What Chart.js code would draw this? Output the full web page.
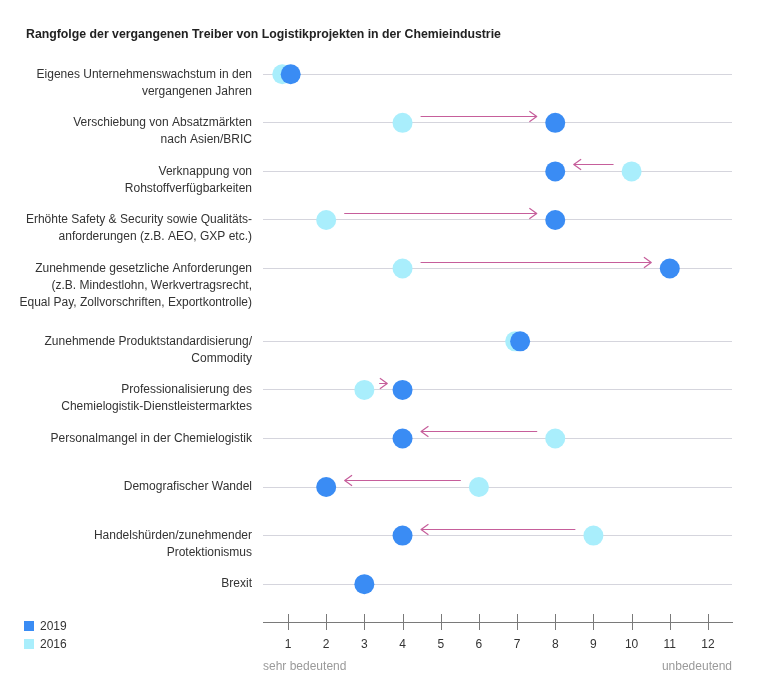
<!DOCTYPE html>
<html><head><meta charset="utf-8">
<script src="https://cdn.jsdelivr.net/npm/chart.js@4/dist/chart.umd.min.js"></script>
<style>
html,body{margin:0;padding:0;background:#fff;}
#wrap{position:relative;width:760px;height:695px;font-family:"Liberation Sans",Arial,Helvetica,sans-serif;}
#c{position:absolute;left:0;top:0;}
#title{position:absolute;left:26px;top:27px;font-size:12.3px;font-weight:bold;color:#222;white-space:nowrap;}
.cap{position:absolute;top:659px;font-size:12px;color:#9a9a9a;white-space:nowrap;}
.leg{position:absolute;left:24px;font-size:12px;color:#333;white-space:nowrap;line-height:14px;}
.leg i{display:inline-block;width:10px;height:10px;margin-right:6px;vertical-align:-1px;}
</style></head>
<body><div id="wrap">
<canvas id="c" width="760" height="695"></canvas>
<div id="title">Rangfolge der vergangenen Treiber von Logistikprojekten in der Chemieindustrie</div>
<div class="cap" style="left:263px">sehr bedeutend</div>
<div class="cap" style="right:28px">unbedeutend</div>
<div class="leg" style="top:619px"><i style="background:#3a8cf4"></i>2019</div>
<div class="leg" style="top:637px"><i style="background:#a9eefc"></i>2016</div>
</div>
<script>
const categories = [
  ["Eigenes Unternehmenswachstum in den", "vergangenen Jahren"],
  ["Verschiebung von Absatzmärkten", "nach Asien/BRIC"],
  ["Verknappung von", "Rohstoffverfügbarkeiten"],
  ["Erhöhte Safety & Security sowie Qualitäts-", "anforderungen (z.B. AEO, GXP etc.)"],
  ["Zunehmende gesetzliche Anforderungen", "(z.B. Mindestlohn, Werkvertragsrecht,", "Equal Pay, Zollvorschriften, Exportkontrolle)"],
  ["Zunehmende Produktstandardisierung/", "Commodity"],
  ["Professionalisierung des", "Chemielogistik-Dienstleistermarktes"],
  ["Personalmangel in der Chemielogistik"],
  ["Demografischer Wandel"],
  ["Handelshürden/zunehmender", "Protektionismus"],
  ["Brexit"]
];
const values2019 = [1.07, 8, 8, 8, 11, 7.08, 4, 4, 2, 4, 3];
const values2016 = [0.85, 4, 10, 2, 4, 6.95, 3, 8, 6, 9, null];
const xTickValues = [1,2,3,4,5,6,7,8,9,10,11,12];

// row positions: one step per row, extra half step after a three-line label
const rowPos = [];
categories.forEach((c, i) => {
  rowPos.push(i === 0 ? 0 : rowPos[i-1] + 1 + (categories[i-1].length > 2 ? 0.5 : 0));
});

function padded(lines){
  const pad = [];
  for (let k = 0; k < lines.length - 1; k++) pad.push('');
  return pad.concat(lines);
}

const DARK = '#3a8cf4', LIGHT = '#a9eefc', ARROW = '#c65e9b';

const arrowPlugin = {
  id: 'arrows',
  beforeDatasetsDraw(chart){
    const xs = chart.scales.x, ys = chart.scales.y, ctx = chart.ctx;
    ctx.save();
    ctx.strokeStyle = ARROW; ctx.lineWidth = 1.2; ctx.lineCap = 'round'; ctx.lineJoin = 'round';
    for (let i = 0; i < categories.length; i++){
      const a = values2016[i], b = values2019[i];
      if (a == null || b == null || Math.abs(b - a) < 0.5) continue;
      const x1 = xs.getPixelForValue(a), x2 = xs.getPixelForValue(b);
      const y = Math.round(ys.getPixelForValue(rowPos[i]) - 7) + 0.5;
      const dir = Math.sign(x2 - x1), dist = Math.abs(x2 - x1);
      const off = Math.min(18.5, dist * 0.4);
      const sx = x1 + dir * off, ex = x2 - dir * off;
      ctx.beginPath();
      ctx.moveTo(sx, y); ctx.lineTo(ex, y);
      ctx.moveTo(ex - dir * 7, y - 5); ctx.lineTo(ex, y); ctx.lineTo(ex - dir * 7, y + 5);
      ctx.stroke();
    }
    ctx.restore();
  },
  afterDraw(chart){
    const xs = chart.scales.x, ctx = chart.ctx, yb = chart.chartArea.bottom;
    ctx.save();
    ctx.strokeStyle = '#7a7a7a'; ctx.lineWidth = 1;
    xs.ticks.forEach(t => {
      const x = Math.round(xs.getPixelForValue(t.value)) + 0.5;
      ctx.beginPath(); ctx.moveTo(x, yb - 8); ctx.lineTo(x, yb + 8); ctx.stroke();
    });
    ctx.restore();
  }
};

new Chart(document.getElementById('c'), {
  type: 'scatter',
  data: {
    datasets: [
      { label: '2019', data: values2019.map((v, i) => ({x: v, y: rowPos[i]})),
        backgroundColor: DARK, borderWidth: 0, pointRadius: 10, pointHoverRadius: 10 },
      { label: '2016', data: values2016.map((v, i) => v == null ? null : {x: v, y: rowPos[i]}).filter(Boolean),
        backgroundColor: LIGHT, borderWidth: 0, pointRadius: 10, pointHoverRadius: 10 }
    ]
  },
  options: {
    responsive: false, animation: false,
    layout: { padding: { left: 0, right: 28, top: 50, bottom: 0 } },
    plugins: { legend: { display: false }, tooltip: { enabled: false } },
    scales: {
      x: {
        type: 'linear', min: 0.345, max: 12.63,
        afterBuildTicks: s => { s.ticks = xTickValues.map(v => ({value: v})); },
        afterFit: s => { s.height = 73; },
        grid: { display: false, drawTicks: false },
        border: { display: true, color: '#7a7a7a', width: 1 },
        ticks: { padding: 15, color: '#333', font: { family: '"Liberation Sans", Arial, sans-serif', size: 12 } }
      },
      y: {
        type: 'linear', reverse: true, min: -0.5, max: 11.28,
        afterBuildTicks: s => { s.ticks = rowPos.map(v => ({value: v})); },
        afterFit: s => { s.width = 263; },
        grid: { color: '#d5d5dd', lineWidth: 1, drawTicks: false },
        border: { display: false },
        ticks: {
          autoSkip: false, padding: 11, color: '#333',
          font: { family: '"Liberation Sans", Arial, sans-serif', size: 12, lineHeight: 17/12 },
          callback: (v, i) => padded(categories[i])
        }
      }
    }
  },
  plugins: [arrowPlugin]
});
</script>
</body></html>
